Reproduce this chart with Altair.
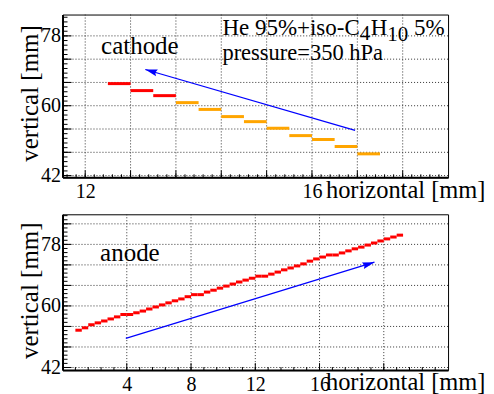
import altair as alt
import pandas as pd
import numpy as np

FONT = "Liberation Serif"

# ---------------- data ----------------
BIN_WIDTH = 0.4

CATH_X_LEFT = [12.4, 12.8, 13.2, 13.6, 14.0, 14.4, 14.8, 15.2, 15.6, 16.0, 16.4, 16.8]
CATH_Y = [65.7, 63.9, 62.6, 60.8, 59.05, 57.2, 55.9, 54.2, 52.3, 51.3, 49.5, 47.6]
CATH_GROUP = ["early", "early", "early", "late", "late", "late",
              "late", "late", "late", "late", "late", "late"]

ANODE_X_LEFT = [0.8, 1.2, 1.6, 2.0, 2.4, 2.8, 3.2, 3.6, 4.0, 4.4, 4.8, 5.2, 5.6,
                6.0, 6.4, 6.8, 7.2, 7.6, 8.0, 8.4, 8.8, 9.2, 9.6, 10.0, 10.4,
                10.8, 11.2, 11.6, 12.0, 12.4, 12.8, 13.2, 13.6, 14.0, 14.4, 14.8,
                15.2, 15.6, 16.0, 16.4, 16.8, 17.2, 17.6, 18.0, 18.4, 18.8, 19.2,
                19.6, 20.0, 20.4, 20.8]
ANODE_Y = [52.9, 53.6, 54.5, 55.05, 55.6, 56.2, 56.8, 57.5, 57.5, 58.0, 58.5,
           59.1, 59.7, 60.3, 60.9, 61.5, 62.05, 62.7, 63.3, 63.3, 64.05, 64.6,
           65.2, 65.8, 66.4, 67.0, 67.55, 68.1, 68.7, 68.7, 69.3, 69.9, 70.55,
           71.1, 71.7, 72.3, 73.1, 73.75, 74.3, 74.9, 74.9, 75.5, 76.1, 76.7,
           77.2, 77.8, 78.4, 79.0, 79.6, 80.15, 80.7]

CATH_ARROW = {"x": [16.76], "y": [53.65], "x2": [13.06], "y2": [69.33]}
ANODE_ARROW = {"x": [3.94], "y": [50.5], "x2": [19.42], "y2": [72.8]}

TOP_X_DOMAIN = [11.6, 18.4]
TOP_Y_DOMAIN = [41.55, 83.5]
BOT_X_DOMAIN = [0, 24]
BOT_Y_DOMAIN = [41.24, 86.8]

TOP_X_GRID = [12.0, 12.8, 13.6, 14.4, 15.2, 16.0, 16.8, 17.6]
TOP_X_LABELS = [12, 16]
BOT_X_GRID = [4, 8, 12, 16, 20]
BOT_X_LABELS = [4, 8, 12, 16]
TOP_Y_GRID = [42, 48, 54, 60, 66, 72, 78]
BOT_Y_GRID = [42, 48, 54, 60, 66, 72, 78, 84]
Y_LABELS = [42, 60, 78]

# ---------------- layout ----------------
W = 386
H_TOP = 163
H_BOT = 156
HEAD = "M0,0 L0.4,1.4 L0,1.2 L-0.4,1.4 Z"
GRID_STYLE = dict(color="#333333", strokeWidth=1, strokeDash=[1, 2])


def panel(df, color, xdom, ydom, xgrid, xlabels, ygrid, h, x_title_pos, y_title_pos,
          arrow, head_angle, texts, xmaj, xmin, ymin):
    xs = alt.Scale(domain=xdom, nice=False, zero=False)
    ys = alt.Scale(domain=ydom, nice=False, zero=False)
    xaxis = alt.Axis(values=xlabels, title="horizontal [mm]", titleFontSize=24.5,
                     titleX=x_title_pos[0], titleY=x_title_pos[1], titleAlign="right",
                     titleAnchor="start", titleBaseline="alphabetic", labelPadding=4,
                     labelBaseline="top", labelFlush=False, labelOverlap=False,
                     grid=False, ticks=False, tickSize=0, format="d")
    yaxis = alt.Axis(values=Y_LABELS, title="vertical [mm]", titleFontSize=25,
                     titleX=y_title_pos[0], titleY=y_title_pos[1], titleAngle=270,
                     titleAlign="center", titleAnchor="start", titleBaseline="alphabetic",
                     labelPadding=2, labelBaseline="middle", labelFlush=False,
                     labelOverlap=False, grid=False, ticks=False, tickSize=0, format="d")
    layers = []
    # dotted grid
    layers.append(alt.Chart(pd.DataFrame({"v": ygrid})).mark_rule(**GRID_STYLE).encode(
        y=alt.Y("v:Q", scale=ys)))
    layers.append(alt.Chart(pd.DataFrame({"v": xgrid})).mark_rule(**GRID_STYLE).encode(
        x=alt.X("v:Q", scale=xs)))
    bars = alt.Chart(df).mark_rule(strokeWidth=3).encode(
        x=alt.X("x0:Q", scale=xs, axis=xaxis),
        x2="x1:Q",
        y=alt.Y("y:Q", scale=ys, axis=yaxis),
        color=color,
    )
    layers.append(bars)
    # ticks inside frame
    for vals, ln in ymin:
        layers.append(alt.Chart(pd.DataFrame({"v": vals})).mark_rule(color="black", strokeWidth=1).encode(
            y=alt.Y("v:Q", scale=ys), x=alt.value(0), x2=alt.value(ln)))
    for vals, ln in [(xmaj, 7), (xmin, 3)]:
        layers.append(alt.Chart(pd.DataFrame({"v": vals})).mark_rule(color="black", strokeWidth=1).encode(
            x=alt.X("v:Q", scale=xs), y=alt.value(h), y2=alt.value(h - ln)))
    adf = pd.DataFrame(arrow)
    layers.append(alt.Chart(adf).mark_rule(color="#0000ff", strokeWidth=1.2).encode(
        x=alt.X("x:Q", scale=xs), y=alt.Y("y:Q", scale=ys),
        x2="x2:Q", y2="y2:Q"))
    layers.append(alt.Chart(adf).mark_point(shape=HEAD, filled=True, color="#0000ff", size=300,
                                            angle=head_angle, opacity=1, strokeWidth=0).encode(
        x=alt.X("x2:Q", scale=xs), y=alt.Y("y2:Q", scale=ys)))
    for (tx, ty, s, size, dx, dy) in texts:
        tdf = pd.DataFrame({"x": [tx], "y": [ty], "t": [s]})
        layers.append(alt.Chart(tdf).mark_text(align="left", baseline="alphabetic", font=FONT,
                                               fontSize=size, dx=dx, dy=dy, color="black").encode(
            x=alt.X("x:Q", scale=xs), y=alt.Y("y:Q", scale=ys), text="t:N"))
    return alt.layer(*layers).properties(width=W, height=h)


cath_df = pd.DataFrame({"x0": CATH_X_LEFT, "y": CATH_Y, "g": CATH_GROUP})
cath_df["x1"] = cath_df["x0"] + BIN_WIDTH
anode_df = pd.DataFrame({"x0": ANODE_X_LEFT, "y": ANODE_Y, "g": ["early"] * len(ANODE_Y)})
anode_df["x1"] = anode_df["x0"] + BIN_WIDTH

color = alt.Color("g:N", scale=alt.Scale(domain=["early", "late"], range=["#ff0000", "#ffa500"]),
                  legend=None)

top_texts = [
    (12.28, 73.4, "cathode", 25, 0, 0),
    (14.42, 78.27, "He 95%+iso-C", 23, 0, 0),
    (14.42, 78.27, "4", 21, 137.5, 5.5),
    (14.42, 78.27, "H", 23, 148.5, 0),
    (14.42, 78.27, "10", 21, 165.1, 6.5),
    (14.42, 78.27, "5%", 23, 191.9, 0),
    (14.42, 71.66, "pressure=350 hPa", 22.5, 0, 0),
]
bot_texts = [(2.34, 73.2, "anode", 25, 0, 0)]

top = panel(cath_df, color, TOP_X_DOMAIN, TOP_Y_DOMAIN, TOP_X_GRID, TOP_X_LABELS, TOP_Y_GRID,
            H_TOP, (423, 20.5), (-25, 78.5), CATH_ARROW, 286, top_texts,
            TOP_X_GRID, list(np.round(np.arange(11.68, 18.4, 0.16), 2)),
            [(TOP_Y_GRID, 9), (list(np.round(np.arange(42, 83.5, 1.2), 1)), 5)])
bottom = panel(anode_df, color, BOT_X_DOMAIN, BOT_Y_DOMAIN, BOT_X_GRID, BOT_X_LABELS, BOT_Y_GRID,
               H_BOT, (423, 19.5), (-25, 76), ANODE_ARROW, 73, bot_texts,
               BOT_X_GRID, list(np.round(np.arange(0.8, 24, 0.8), 1)),
               [(BOT_Y_GRID, 9), (list(np.round(np.arange(42, 86.8, 1.2), 1)), 5)])

chart = alt.vconcat(top, bottom, spacing=10).properties(
    padding={"left": 8.6, "top": 5.3, "right": 0, "bottom": 0}
).configure_view(stroke="black", strokeWidth=1).configure_axis(
    labelFont=FONT, titleFont=FONT, labelFontSize=20,
    labelColor="black", titleColor="black", titleFontWeight="normal",
    domain=True, domainColor="black", domainWidth=2,
)

chart.save("out.html", embed_options={"renderer": "svg", "actions": False})
